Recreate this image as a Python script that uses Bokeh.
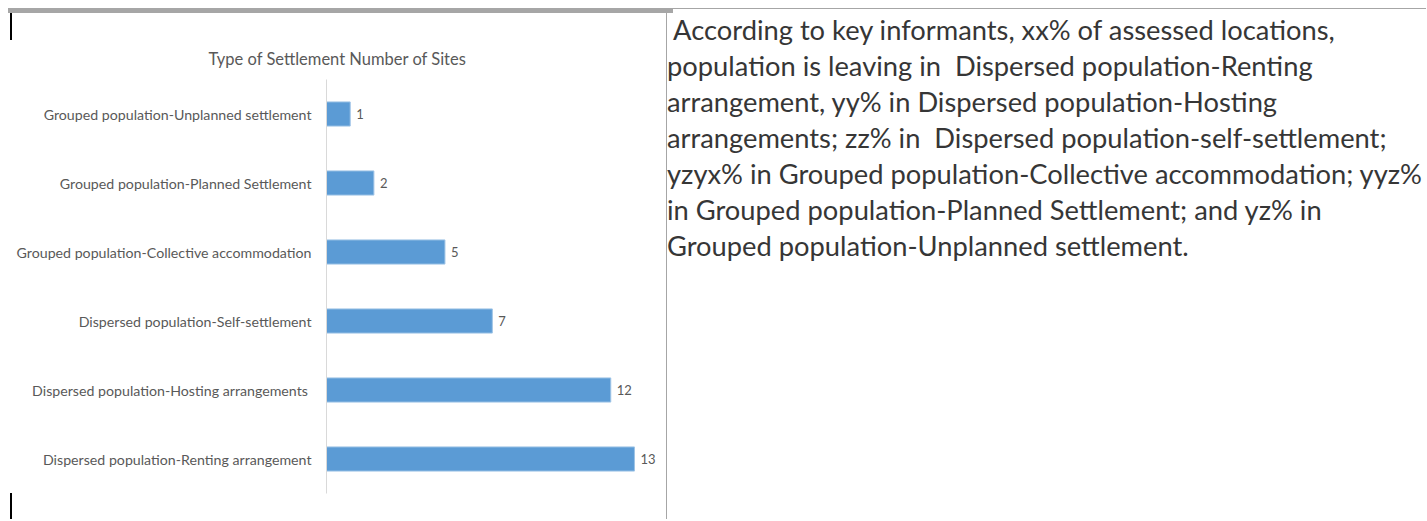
from bokeh.plotting import figure
from bokeh.models import ColumnDataSource, FactorRange, Range1d, Div
from bokeh.layouts import row
from bokeh.core.properties import value
from bokeh.embed import file_html
from bokeh.resources import INLINE

# ---- data ----
settlement_types = [
    "Dispersed population-Renting arrangement",
    "Dispersed population-Hosting arrangements ",
    "Dispersed population-Self-settlement",
    "Grouped population-Collective accommodation",
    "Grouped population-Planned Settlement",
    "Grouped population-Unplanned settlement",
]
number_of_sites = [13, 12, 7, 5, 2, 1]
chart_title = "Type of Settlement Number of Sites"

paragraph_lines = [
    " According to key informants, xx% of assessed locations,",
    "population is leaving in  Dispersed population-Renting",
    "arrangement, yy% in Dispersed population-Hosting",
    "arrangements; zz% in  Dispersed population-self-settlement;",
    "yzyx% in Grouped population-Collective accommodation; yyz%",
    "in Grouped population-Planned Settlement; and yz% in",
    "Grouped population-Unplanned settlement.",
]

FONT = "Lato"
GREY = "#595959"

# ---- left: bar chart ----
src = ColumnDataSource(dict(cat=settlement_types, n=number_of_sites,
                            lbl=[str(v) for v in number_of_sites]))

p = figure(width=666, height=519, output_backend="svg", toolbar_location=None,
           y_range=FactorRange(factors=settlement_types, range_padding=0),
           x_range=Range1d(0, 14.1),
           min_border_left=326, min_border_right=6,
           min_border_top=79, min_border_bottom=26,
           border_fill_color=None, background_fill_color=None)
p.hbar(y="cat", right="n", height=0.35, source=src,
       fill_color="#5b9bd5", line_color="#9dc3e6", line_width=1)
p.text(x="n", y="cat", text="lbl", source=src, x_offset=6,
       text_align="left", text_baseline="middle",
       text_font=value(FONT), text_font_size="13px", text_color=GREY)

p.xaxis.visible = False
p.xgrid.visible = False
p.ygrid.visible = False
p.outline_line_color = None
ax = p.yaxis[0]
ax.axis_line_color = "#d9d9d9"
ax.axis_line_width = 1
ax.major_tick_line_color = None
ax.minor_tick_line_color = None
ax.major_tick_out = 0
ax.major_label_standoff = 15
ax.major_label_text_font = FONT
ax.major_label_text_font_size = "14.2px"
ax.major_label_text_color = GREY

p.title.text = chart_title
p.title.align = "left"
p.title.offset = -118
p.title.standoff = 21
p.title.text_font = FONT
p.title.text_font_size = "16.5px"
p.title.text_font_style = "normal"
p.title.text_color = GREY

# page decorations (document table borders) drawn as CSS backgrounds
p.styles = {
    "background-image": "linear-gradient(#a6a6a6,#a6a6a6), linear-gradient(#000,#000), linear-gradient(#000,#000)",
    "background-size": "665px 5px, 2px 27px, 2px 28px",
    "background-position": "8px 8px, 10px 13px, 10px 493px",
    "background-repeat": "no-repeat",
}

# ---- right: text panel ----
div = Div(text="\n".join(paragraph_lines), width=760, height=519, margin=0,
          styles={
              "white-space": "pre",
              "font-family": "Lato",
              "font-size": "27.3px",
              "line-height": "35.95px",
              "color": "#363636",
              "padding-top": "12px",
              "padding-left": "1px",
              "box-sizing": "border-box",
              "background-image": "linear-gradient(#a6a6a6,#a6a6a6), linear-gradient(#a6a6a6,#a6a6a6), linear-gradient(#a6a6a6,#a6a6a6)",
              "background-size": "100% 1px, 7px 5px, 1px 100%",
              "background-position": "0px 8px, 0px 8px, 0px 13px",
              "background-repeat": "no-repeat",
          })

layout = row(p, div, spacing=0)
open("out.html", "w").write(file_html(layout, INLINE))
